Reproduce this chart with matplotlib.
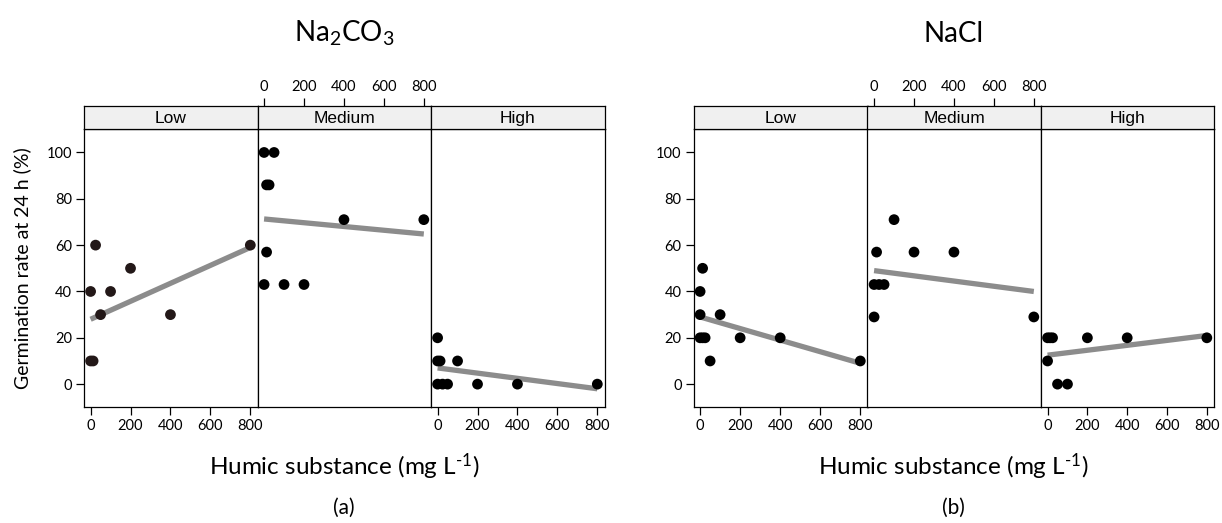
import matplotlib
matplotlib.use('Agg')
import matplotlib.pyplot as plt
import numpy as np

plt.rcParams['font.family'] = ['Lato', 'DejaVu Sans']
plt.rcParams['mathtext.fontset'] = 'custom'
plt.rcParams['mathtext.rm'] = 'Lato'
plt.rcParams['mathtext.it'] = 'Lato:italic'

# 盐度水平
levels = ["Low", "Medium", "High"]
salts = ["Na$_2$CO$_3$", "NaCl"]
panel_tags = ["(a)", "(b)"]

# 腐殖质浓度 (mg/L) 与 24 h 发芽率 (%)
na2co3_x = {
    "Low": [0, 12.5, 0, 25, 50, 100, 200, 400, 800],
    "Medium": [0, 50, 12.5, 25, 400, 800, 12.5, 0, 100, 200],
    "High": [0, 0, 12.5, 100, 0, 25, 50, 200, 400, 800],
}
na2co3_y = {
    "Low": [40, 10, 10, 60, 30, 40, 50, 30, 60],
    "Medium": [100, 100, 86, 86, 71, 71, 57, 43, 43, 43],
    "High": [20, 10, 10, 10, 0, 0, 0, 0, 0, 0],
}
nacl_x = {
    "Low": [12.5, 0, 0, 100, 0, 12.5, 25, 200, 400, 50, 800],
    "Medium": [100, 12.5, 200, 400, 0, 25, 50, 0, 800],
    "High": [0, 12.5, 25, 200, 400, 800, 0, 50, 100],
}
nacl_y = {
    "Low": [50, 40, 30, 30, 20, 20, 20, 20, 20, 10, 10],
    "Medium": [71, 57, 57, 57, 43, 43, 43, 29, 29],
    "High": [20, 20, 20, 20, 20, 20, 10, 0, 0],
}

# 线性拟合：x = 0 和 x = 800 处的预测值
na2co3_fit = {"Low": [28, 59], "Medium": [71.3, 64.8], "High": [7, -2]}
nacl_fit = {"Low": [29, 9], "Medium": [49, 40], "High": [12.5, 21]}
fit_x = [0, 800]

xticks = [0, 200, 400, 600, 800]
yticks = [0, 20, 40, 60, 80, 100]

W, H = 1222, 523
fig = plt.figure(figsize=(W / 100, H / 100), dpi=100)

def box(x0, x1, y0, y1):
    return [x0 / W, 1 - y1 / H, (x1 - x0) / W, (y1 - y0) / H]

edges = [[84, 257.5, 431, 604.5], [693.5, 867.5, 1041, 1214]]
ptop, pbot, stop = 129.3, 407.3, 106
xlim = (-33, 836)
ylim = (-10, 110)

datasets = [(na2co3_x, na2co3_y, na2co3_fit), (nacl_x, nacl_y, nacl_fit)]

for k, (dx, dy, dfit) in enumerate(datasets):
    e = edges[k]
    for i, lev in enumerate(levels):
        ax = fig.add_axes(box(e[i], e[i + 1], ptop, pbot))
        ax.set_xlim(xlim)
        ax.set_ylim(ylim)
        ax.plot(fit_x, dfit[lev], color='#8c8c8c', lw=3.8, solid_capstyle='butt', zorder=2)
        pc = '#231818' if (k == 0 and i == 0) else 'black'
        ax.scatter(dx[lev], dy[lev], s=60, color=pc, edgecolors='none', zorder=3)
        for sp in ax.spines.values():
            sp.set_linewidth(0.9)
        ax.tick_params(direction='out', length=5.5, width=0.9, labelsize=10.5, pad=3)
        if i == 0:
            ax.set_yticks(yticks)
        else:
            ax.set_yticks([])
        if i == 1:
            ax.set_xticks([])
        else:
            ax.set_xticks(xticks)

        # 条带标题
        st = fig.add_axes(box(e[i], e[i + 1], stop, ptop))
        st.set_facecolor('#f0f0f0')
        st.set_xlim(xlim)
        st.set_yticks([])
        for sp in st.spines.values():
            sp.set_linewidth(0.9)
        st.text(0.5, 0.47, lev, transform=st.transAxes, ha='center', va='center',
                fontsize=12.5, family=['Liberation Sans'])
        if i == 1:
            st.set_xticks(xticks)
            st.xaxis.tick_top()
            st.tick_params(direction='out', length=5.5, width=0.9, labelsize=10.5, pad=3)
        else:
            st.set_xticks([])

    cx = (e[0] + e[3]) / 2
    fig.text(cx / W, 1 - 42 / H, salts[k], ha='center', va='baseline', fontsize=20)
    fig.text(cx / W, 1 - 467 / H, r"Humic substance (mg L$^{\text{-1}}$)",
             ha='center', va='center', fontsize=17.5)
    fig.text(cx / W, 1 - 508 / H, panel_tags[k], ha='center', va='center', fontsize=15)

fig.text(22 / W, 1 - 268 / H, "Germination rate at 24 h (%)", rotation=90,
         ha='center', va='center', fontsize=14)

fig.savefig("out.png", dpi=100)
